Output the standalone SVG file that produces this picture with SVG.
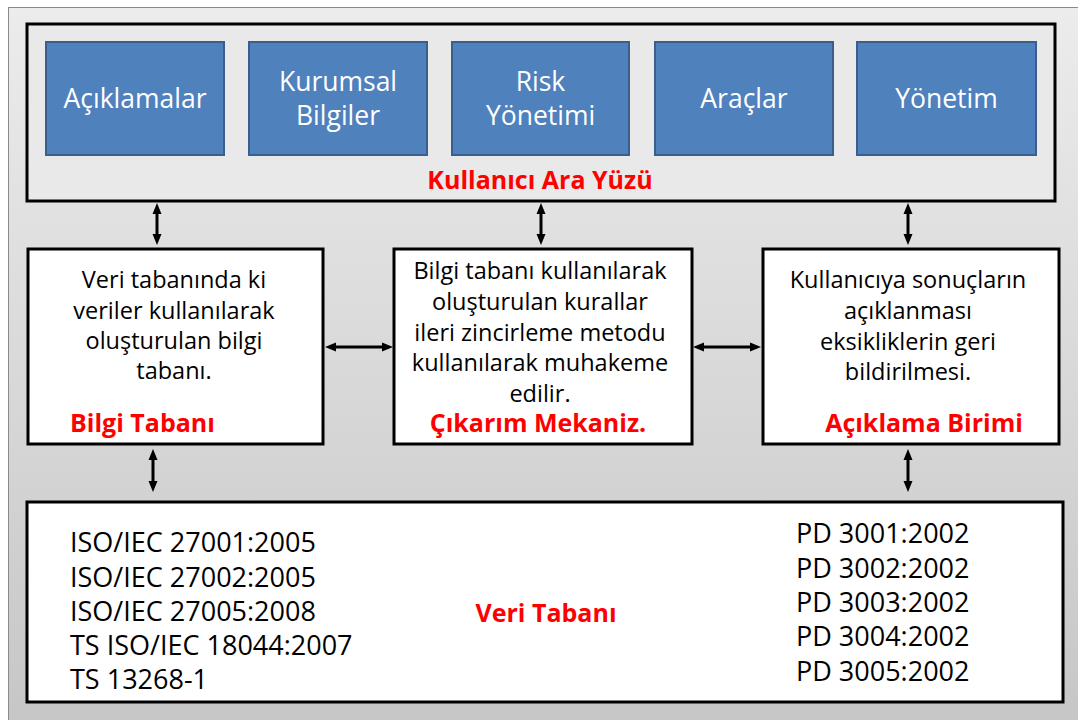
<svg xmlns="http://www.w3.org/2000/svg" width="1078" height="720" viewBox="0 0 1078 720">
<defs>
<linearGradient id="bg" x1="0" y1="0" x2="0" y2="1">
<stop offset="0" stop-color="#ececec"/>
<stop offset="1" stop-color="#c6c6c6"/>
</linearGradient>
<marker id="ah" viewBox="0 -5 12 10" refX="1" refY="0" markerWidth="12" markerHeight="10" markerUnits="userSpaceOnUse" orient="auto-start-reverse">
<path d="M0,-4.5 L11,0 L0,4.5 z" fill="#000"/>
</marker>
</defs>
<style>
.panel{fill:url(#bg);stroke:#8a8a8a;stroke-width:1}
.frame{fill:#e9e9e9;stroke:#000;stroke-width:3}
.wbox{fill:#fff;stroke:#000;stroke-width:3}
.blue{fill:#4f81bd;stroke:#3a5f8e;stroke-width:2}
.bt{font-family:"Open Sans","Liberation Sans",sans-serif;font-size:26.5px;fill:#fff;text-anchor:middle}
.tx{font-family:"Open Sans","Liberation Sans",sans-serif;font-size:23.5px;fill:#000;text-anchor:middle}
.lt{font-family:"Open Sans","Liberation Sans",sans-serif;font-size:27px;fill:#000}
.rd{font-family:"Open Sans","Liberation Sans",sans-serif;font-size:25px;font-weight:bold;fill:#ff0000}
.con{stroke:#000;stroke-width:3;fill:none;marker-start:url(#ah);marker-end:url(#ah)}
</style>
<rect x="0" y="0" width="1078" height="720" fill="#fff"/>
<rect class="panel" x="8.5" y="7.5" width="1075" height="720"/>

<g id="kullanici-ara-yuzu">
<rect class="frame" x="27" y="24" width="1028" height="177"/>
<text class="rd" x="540" y="189" text-anchor="middle">Kullanıcı Ara Yüzü</text>
</g>
<g id="aciklamalar">
<rect class="blue" x="46" y="42" width="178" height="113"/>
<text class="bt" x="135" y="108">Açıklamalar</text>
</g>
<g id="kurumsal-bilgiler">
<rect class="blue" x="249" y="42" width="178" height="113"/>
<text class="bt" x="338" y="91">Kurumsal</text>
<text class="bt" x="338" y="125">Bilgiler</text>
</g>
<g id="risk-yonetimi">
<rect class="blue" x="452" y="42" width="177" height="113"/>
<text class="bt" x="540.5" y="91">Risk</text>
<text class="bt" x="540.5" y="125">Yönetimi</text>
</g>
<g id="araclar">
<rect class="blue" x="655" y="42" width="178" height="113"/>
<text class="bt" x="744" y="108">Araçlar</text>
</g>
<g id="yonetim">
<rect class="blue" x="857" y="42" width="179" height="113"/>
<text class="bt" x="946.5" y="108">Yönetim</text>
</g>

<g id="bilgi-tabani">
<rect class="wbox" x="28" y="249" width="295" height="195"/>
<text class="tx" x="174" y="288">Veri tabanında ki</text>
<text class="tx" x="174" y="319">veriler kullanılarak</text>
<text class="tx" x="174" y="349">oluşturulan bilgi</text>
<text class="tx" x="174" y="379">tabanı.</text>
<text class="rd" x="70" y="432">Bilgi Tabanı</text>
</g>
<g id="cikarim-mekanizmasi">
<rect class="wbox" x="394" y="249" width="298" height="195"/>
<text class="tx" x="540" y="279">Bilgi tabanı kullanılarak</text>
<text class="tx" x="540" y="310">oluşturulan kurallar</text>
<text class="tx" x="540" y="341">ileri zincirleme metodu</text>
<text class="tx" x="540" y="371">kullanılarak muhakeme</text>
<text class="tx" x="540" y="402">edilir.</text>
<text class="rd" x="538" y="432" text-anchor="middle">Çıkarım Mekaniz.</text>
</g>
<g id="aciklama-birimi">
<rect class="wbox" x="763" y="249" width="296" height="195"/>
<text class="tx" x="908" y="288">Kullanıcıya sonuçların</text>
<text class="tx" x="908" y="319">açıklanması</text>
<text class="tx" x="908" y="350">eksikliklerin geri</text>
<text class="tx" x="908" y="380">bildirilmesi.</text>
<text class="rd" x="924" y="432" text-anchor="middle">Açıklama Birimi</text>
</g>
<g id="veri-tabani">
<rect class="wbox" x="27" y="502" width="1036" height="200"/>
<text class="lt" x="70" y="552">ISO/IEC 27001:2005</text>
<text class="lt" x="70" y="587">ISO/IEC 27002:2005</text>
<text class="lt" x="70" y="621">ISO/IEC 27005:2008</text>
<text class="lt" x="70" y="655">TS ISO/IEC 18044:2007</text>
<text class="lt" x="70" y="689">TS 13268-1</text>
<text class="lt" x="796" y="543">PD 3001:2002</text>
<text class="lt" x="796" y="578">PD 3002:2002</text>
<text class="lt" x="796" y="612">PD 3003:2002</text>
<text class="lt" x="796" y="646">PD 3004:2002</text>
<text class="lt" x="796" y="681">PD 3005:2002</text>
<text class="rd" x="546" y="622" text-anchor="middle">Veri Tabanı</text>
</g>

<g id="connectors">
<path class="con" d="M157,213 V235"/>
<path class="con" d="M541,213 V235"/>
<path class="con" d="M908,213 V235"/>
<path class="con" d="M153,459 V482"/>
<path class="con" d="M908,459 V482"/>
<path class="con" d="M335,347 H383"/>
<path class="con" d="M703,347 H751"/>
</g>
</svg>
